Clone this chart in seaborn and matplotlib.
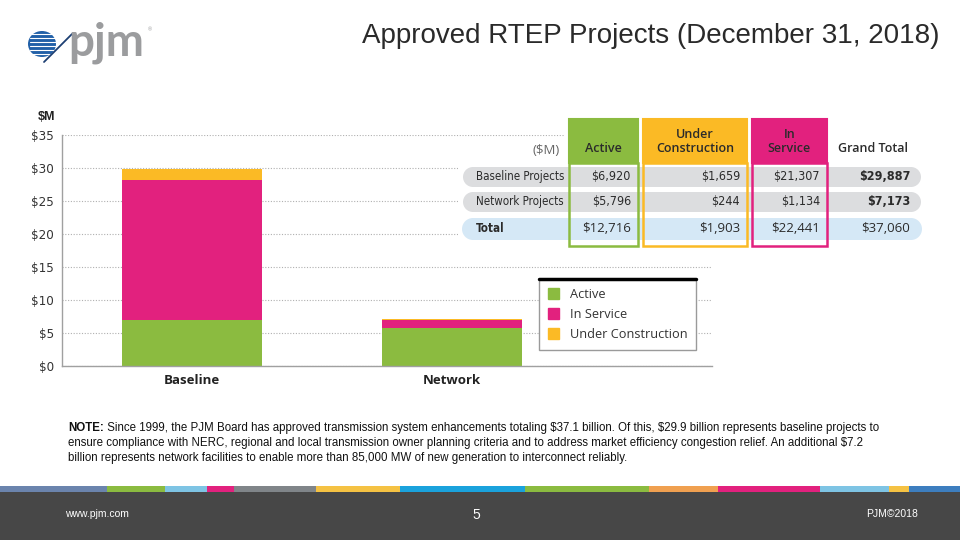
import matplotlib
matplotlib.use("Agg")
import matplotlib.pyplot as plt
import seaborn as sns
from matplotlib.patches import Rectangle, Patch, Ellipse
from matplotlib.lines import Line2D
from matplotlib.ticker import FuncFormatter

# values in $ billion (axis labelled $M like the original slide)
categories = ['Baseline', 'Network']
active = [6.920, 5.796]
in_service = [21.307, 1.134]
under_construction = [1.659, 0.244]

table_rows = ['Baseline Projects', 'Network Projects', 'Total']
table_active = ['$6,920', '$5,796', '$12,716']
table_uc = ['$1,659', '$244', '$1,903']
table_is = ['$21,307', '$1,134', '$22,441']
table_total = ['$29,887', '$7,173', '$37,060']

note_bold = 'NOTE:'
note_lines = [
    ' Since 1999, the PJM Board has approved transmission system enhancements totaling $37.1 billion. Of this, $29.9 billion represents baseline projects to',
    'ensure compliance with NERC, regional and local transmission owner planning criteria and to address market efficiency congestion relief. An additional $7.2',
    'billion represents network facilities to enable more than 85,000 MW of new generation to interconnect reliably.',
]

GREEN = '#8bbb40'
PINK = '#e2217e'
YELLOW = '#fbba25'
NARROW = ['DejaVu Sans']
ROUND = ['Open Sans', 'DejaVu Sans']

sns.set_style('white')
plt.rcParams['font.family'] = ['Liberation Sans', 'DejaVu Sans']

W, H = 960, 540
fig = plt.figure(figsize=(9.6, 5.4), dpi=100)


def px(x):
    return x / W


def py(y):
    return 1 - y / H


# ---- chart ----
ax = fig.add_axes([px(62), py(366), px(712) - px(62), py(135) - py(366)])
bottom2 = [a + b for a, b in zip(active, in_service)]
bar_kw = dict(width=0.54, saturation=1, linewidth=0, ax=ax)
sns.barplot(x=categories, y=active, color=GREEN, **bar_kw)
sns.barplot(x=categories, y=in_service, bottom=active, color=PINK, **bar_kw)
sns.barplot(x=categories, y=under_construction, bottom=bottom2, color=YELLOW, **bar_kw)

ax.set_xlim(-0.5, 2.0)
ax.set_ylim(0, 35)
ax.set_yticks(range(0, 36, 5))
ax.yaxis.set_major_formatter(FuncFormatter(lambda v, p: f'${v:.0f}'))
ax.grid(axis='y', linestyle=(0, (1, 1.5)), color='#b0b0b0', linewidth=0.8)
ax.set_axisbelow(True)
for s in ['top', 'right']:
    ax.spines[s].set_visible(False)
for s in ['left', 'bottom']:
    ax.spines[s].set_color('#a0a0a0')
    ax.spines[s].set_linewidth(1)
ax.tick_params(axis='y', length=4, color='#a0a0a0', labelsize=9.5, labelcolor='#333333', pad=2)
for lab in ax.get_yticklabels():
    lab.set_family(NARROW)
    lab.set_fontstretch('condensed')
ax.tick_params(axis='x', length=0, pad=6)
ax.set_xticks([0, 1])
ax.set_xticklabels(categories, fontsize=9.5, fontweight='bold', color='#222222', family=ROUND)
ax.set_xticks([0.5], minor=True)
ax.tick_params(axis='x', which='minor', length=20, color='#a0a0a0', width=1)
ax.set_xlabel('')
ax.set_ylabel('')
fig.text(px(47), py(117), '$M', fontsize=9, fontweight='bold', ha='center', va='center', color='#222222')

# legend
handles = [Patch(color=GREEN), Patch(color=PINK), Patch(color=YELLOW)]
leg = ax.legend(handles, ['Active', 'In Service', 'Under Construction'],
                loc='upper left', bbox_to_anchor=(px(539), py(279)), bbox_transform=fig.transFigure,
                frameon=True, fancybox=False, edgecolor='#9a9a9a', framealpha=1,
                prop={'family': ROUND, 'size': 9.2}, handlelength=0.9, handleheight=0.9,
                labelspacing=0.55, borderpad=0.7, handletextpad=0.8, borderaxespad=0)
for t in leg.get_texts():
    t.set_color('#333333')
fig.canvas.draw()
bb = leg.get_window_extent().transformed(fig.transFigure.inverted())
fig.add_artist(Line2D([bb.x0, bb.x1], [bb.y1, bb.y1], color='black', linewidth=2.5,
                      transform=fig.transFigure, zorder=10))

# ---- table ----
tf = fig.transFigure
fig.add_artist(Rectangle((px(565), py(250)), px(930) - px(565), py(112) - py(250), transform=tf,
                         facecolor='white', edgecolor='none', zorder=3))
fig.add_artist(Rectangle((px(458), py(250)), px(930) - px(458), py(162) - py(250), transform=tf,
                         facecolor='white', edgecolor='none', zorder=3))
row_y = [177, 202, 229]
row_h = [20, 20, 22]
row_col = ['#dcdddf', '#dcdddf', '#d5e8f6']
for ry, rh, rc in zip(row_y, row_h, row_col):
    fig.add_artist(Rectangle((px(473), py(ry + rh / 2)), px(911) - px(473), rh / H, transform=tf,
                             facecolor=rc, edgecolor='none', zorder=4))
    fig.add_artist(Ellipse((px(473), py(ry)), rh / W, rh / H, transform=tf, facecolor=rc, edgecolor='none', zorder=4))
    fig.add_artist(Ellipse((px(911), py(ry)), rh / W, rh / H, transform=tf, facecolor=rc, edgecolor='none', zorder=4))

cols = [(569, 638, GREEN, 'Active', table_active),
        (643, 747, YELLOW, 'Under\nConstruction', table_uc),
        (752, 827, PINK, 'In\nService', table_is)]
for x0, x1, c, head, vals in cols:
    fig.add_artist(Rectangle((px(x0), py(163)), px(x1) - px(x0), py(119) - py(163), transform=tf,
                             facecolor=c, edgecolor=c, linewidth=1.5, zorder=5))
    fig.add_artist(Rectangle((px(x0), py(246)), px(x1) - px(x0), py(163) - py(246), transform=tf,
                             facecolor='none', edgecolor=c, linewidth=1.8, zorder=5))
    fig.text(px((x0 + x1) / 2), py(148 if '\n' not in head else 141), head, ha='center', va='center',
             fontsize=9, fontweight='semibold', family=ROUND, color='#2b2b2b', zorder=6, linespacing=1.1)
    for i, (v, ry) in enumerate(zip(vals, row_y)):
        fig.text(px(x1 - 7), py(ry), v, ha='right', va='center', fontsize=9.5 if i == 2 else 9,
                 family=ROUND if i == 2 else NARROW, fontstretch='normal' if i == 2 else 'condensed',
                 color='#2b2b2b', zorder=6)

fig.text(px(873), py(148), 'Grand Total', ha='center', va='center', fontsize=9, fontweight='semibold',
         family=ROUND, color='#2b2b2b', zorder=6)
fig.text(px(560), py(151), '($M)', ha='right', va='center', fontsize=9.5, family=ROUND, color='#666666', zorder=6)
for i, (v, ry) in enumerate(zip(table_total, row_y)):
    fig.text(px(910), py(ry), v, ha='right', va='center', fontsize=9.5 if i == 2 else 9,
             fontweight='normal' if i == 2 else 'bold', family=ROUND if i == 2 else NARROW,
             fontstretch='normal' if i == 2 else 'condensed', color='#2b2b2b', zorder=6)
for i, (lab, ry) in enumerate(zip(table_rows, row_y)):
    fig.text(px(476), py(ry), lab, ha='left', va='center', fontsize=8.3, family=NARROW, fontstretch='condensed',
             fontweight='bold' if i == 2 else 'normal', color='#2b2b2b', zorder=6)

# ---- title and logo ----
fig.text(px(940), py(36), 'Approved RTEP Projects (December 31, 2018)', ha='right', va='center',
         fontsize=20, color='#2a2a2a')
fig.add_artist(Ellipse((px(42), py(44)), 28 / W, 26 / H, transform=tf, facecolor='#2160a8', edgecolor='none'))
for k in range(6):
    yy = 34 + k * 4
    fig.add_artist(Line2D([px(30), px(56)], [py(yy), py(yy)], color='white', linewidth=0.8, transform=tf))
fig.add_artist(Line2D([px(44), px(72)], [py(62), py(34)], color='#1d3f73', linewidth=1.3, transform=tf))
fig.text(px(68), py(43), 'pjm', ha='left', va='center', fontsize=33, fontweight='bold',
         family=['Lato', 'DejaVu Sans'], color='#9b9c9e')
fig.text(px(150), py(30), '®', fontsize=4, color='#9b9c9e', ha='center', va='center')

# ---- note ----
renderer = fig.canvas.get_renderer()
t0 = fig.text(px(68), py(428), note_bold, ha='left', va='center', fontsize=8.3, fontweight='bold', color='#111111')
w0 = t0.get_window_extent(renderer).width
for k, line in enumerate(note_lines):
    x = 68 + w0 if k == 0 else 68
    fig.text(px(x), py(428 + 15 * k), line, ha='left', va='center', fontsize=8.3, color='#111111',
             parse_math=False)

# ---- footer ----
fig.add_artist(Rectangle((0, 0), 1, py(492), transform=tf, facecolor='#474747', edgecolor='none'))
stripes = [(0, 107, '#6b84ad'), (107, 165, '#8bbb40'), (165, 207, '#7ec4e4'), (207, 234, '#e2217e'),
           (234, 316, '#808589'), (316, 400, '#f5c243'), (400, 525, '#1aa2dc'), (525, 649, '#8bbb40'),
           (649, 718, '#f0a050'), (718, 820, '#e2217e'), (820, 889, '#7ec4e4'), (889, 909, '#f5c243'),
           (909, 960, '#3d7ebf')]
for a, b, c in stripes:
    fig.add_artist(Rectangle((px(a), py(492)), px(b) - px(a), 6 / H, transform=tf, facecolor=c, edgecolor='none'))
fig.text(px(65), py(514), 'www.pjm.com', ha='left', va='center', fontsize=7.5, color='white')
fig.text(px(476), py(515), '5', ha='center', va='center', fontsize=10, color='white')
fig.text(px(918), py(514), 'PJM©2018', ha='right', va='center', fontsize=7.5, color='white')

fig.savefig('out.png', dpi=100)
plt.close(fig)
